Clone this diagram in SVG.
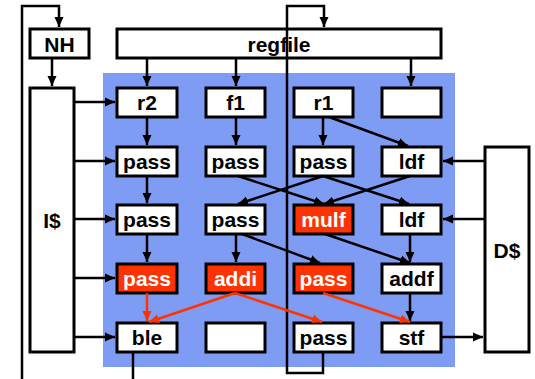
<svg xmlns="http://www.w3.org/2000/svg" width="535" height="379" viewBox="0 0 535 379">
<style>
.bx{fill:#fff;stroke:#000;stroke-width:3}
.rd{fill:#ff3300;stroke:#000;stroke-width:3}
.t{font-family:"Liberation Sans",Arial,sans-serif;font-weight:bold;font-size:21px;text-anchor:middle;fill:#000}
.tw{font-family:"Liberation Sans",Arial,sans-serif;font-weight:bold;font-size:21px;text-anchor:middle;fill:#fff}
.c{stroke:#000;stroke-width:2.5;fill:none}
.cr{stroke:#ff3300;stroke-width:2.5;fill:none}
.a{marker-end:url(#ah)}
.ar{marker-end:url(#ahr)}
</style>
<defs>
<marker id="ah" markerUnits="userSpaceOnUse" markerWidth="10" markerHeight="10" refX="10" refY="5" orient="auto"><path d="M0,0.5 L10,5 L0,9.5 z" fill="#000"/></marker>
<marker id="ahr" markerUnits="userSpaceOnUse" markerWidth="10" markerHeight="10" refX="10" refY="5" orient="auto"><path d="M0,0.5 L10,5 L0,9.5 z" fill="#ff3300"/></marker>
</defs>
<rect x="103" y="73" width="352" height="294" fill="#7f9cf5"/>
<g id="NH"><rect class="bx" x="30" y="29" width="59" height="29"/><text class="t" x="59.5" y="52" font-size="22">NH</text></g>
<g id="regfile"><rect class="bx" x="117" y="29" width="324" height="29"/><text class="t" x="279" y="52" font-size="22">regfile</text></g>
<g id="Icache"><rect class="bx" x="30" y="88" width="44" height="264"/><text class="t" x="52" y="228">I$</text></g>
<g id="Dcache"><rect class="bx" x="485" y="147" width="44" height="205"/><text class="t" x="507" y="258">D$</text></g>
<g id="r2"><rect class="bx" x="117" y="88" width="60" height="29"/><text class="t" x="147" y="110">r2</text></g>
<g id="f1"><rect class="bx" x="206" y="88" width="59" height="29"/><text class="t" x="235.5" y="110">f1</text></g>
<g id="r1"><rect class="bx" x="294" y="88" width="59" height="29"/><text class="t" x="323.5" y="110">r1</text></g>
<g id="empty1"><rect class="bx" x="382" y="88" width="59" height="29"/></g>
<g id="pass21"><rect class="bx" x="117" y="147" width="60" height="29"/><text class="t" x="147" y="169">pass</text></g>
<g id="pass22"><rect class="bx" x="206" y="147" width="59" height="29"/><text class="t" x="235.5" y="169">pass</text></g>
<g id="pass23"><rect class="bx" x="294" y="147" width="59" height="29"/><text class="t" x="323.5" y="169">pass</text></g>
<g id="ldf2"><rect class="bx" x="382" y="147" width="59" height="29"/><text class="t" x="411.5" y="169">ldf</text></g>
<g id="pass31"><rect class="bx" x="117" y="205" width="60" height="29"/><text class="t" x="147" y="227">pass</text></g>
<g id="pass32"><rect class="bx" x="206" y="205" width="59" height="29"/><text class="t" x="235.5" y="227">pass</text></g>
<g id="mulf"><rect class="rd" x="294" y="205" width="59" height="29"/><text class="tw" x="323.5" y="227">mulf</text></g>
<g id="ldf3"><rect class="bx" x="382" y="205" width="59" height="29"/><text class="t" x="411.5" y="227">ldf</text></g>
<g id="pass41"><rect class="rd" x="117" y="264" width="60" height="29"/><text class="tw" x="147" y="286">pass</text></g>
<g id="addi"><rect class="rd" x="206" y="264" width="59" height="29"/><text class="tw" x="235.5" y="286">addi</text></g>
<g id="pass43"><rect class="rd" x="294" y="264" width="59" height="29"/><text class="tw" x="323.5" y="286">pass</text></g>
<g id="addf"><rect class="bx" x="382" y="264" width="59" height="29"/><text class="t" x="411.5" y="286">addf</text></g>
<g id="ble"><rect class="bx" x="117" y="323" width="60" height="29"/><text class="t" x="147" y="345">ble</text></g>
<g id="empty5"><rect class="bx" x="206" y="323" width="59" height="29"/></g>
<g id="pass53"><rect class="bx" x="294" y="323" width="59" height="29"/><text class="t" x="323.5" y="345">pass</text></g>
<g id="stf"><rect class="bx" x="382" y="323" width="59" height="29"/><text class="t" x="411.5" y="345">stf</text></g>
<g id="connectors">
<path class="c a" d="M22,379 V6 H59 V27"/>
<path class="c a" d="M52,58 V86"/>
<path class="c" d="M133,352 V379"/>
<path class="c a" d="M323,352 V373 H287 V6 H324 V27"/>
<path class="c a" d="M147,58 V86"/>
<path class="c a" d="M236,58 V86"/>
<path class="c a" d="M411,58 V86"/>
<path class="c a" d="M74,102 H115"/>
<path class="c a" d="M74,161 H115"/>
<path class="c a" d="M74,219 H115"/>
<path class="c a" d="M74,278 H115"/>
<path class="c a" d="M74,337 H115"/>
<path class="c a" d="M485,161 H443"/>
<path class="c a" d="M485,219 H443"/>
<path class="c a" d="M441,337 H483"/>
<path class="c a" d="M147,117 V145"/>
<path class="c a" d="M236,117 V145"/>
<path class="c a" d="M323,117 V145"/>
<path class="c a" d="M329,117 L408,146"/>
<path class="c a" d="M147,176 V203"/>
<path class="c a" d="M238,176 L324,204"/>
<path class="c a" d="M323,176 L238,204"/>
<path class="c a" d="M323,176 L409,204"/>
<path class="c a" d="M410,176 L324,204"/>
<path class="c a" d="M147,234 V262"/>
<path class="c a" d="M236,234 V262"/>
<path class="c a" d="M242,234 L320,263"/>
<path class="c a" d="M325,234 L410,263"/>
<path class="c a" d="M410,234 V262"/>
<path class="c a" d="M410,293 V321"/>
<path class="cr ar" d="M147,293 V321"/>
<path class="cr ar" d="M235,293 L149,322"/>
<path class="cr ar" d="M235,293 L322,322"/>
<path class="cr ar" d="M323,293 L410,322"/>
</g>
</svg>
